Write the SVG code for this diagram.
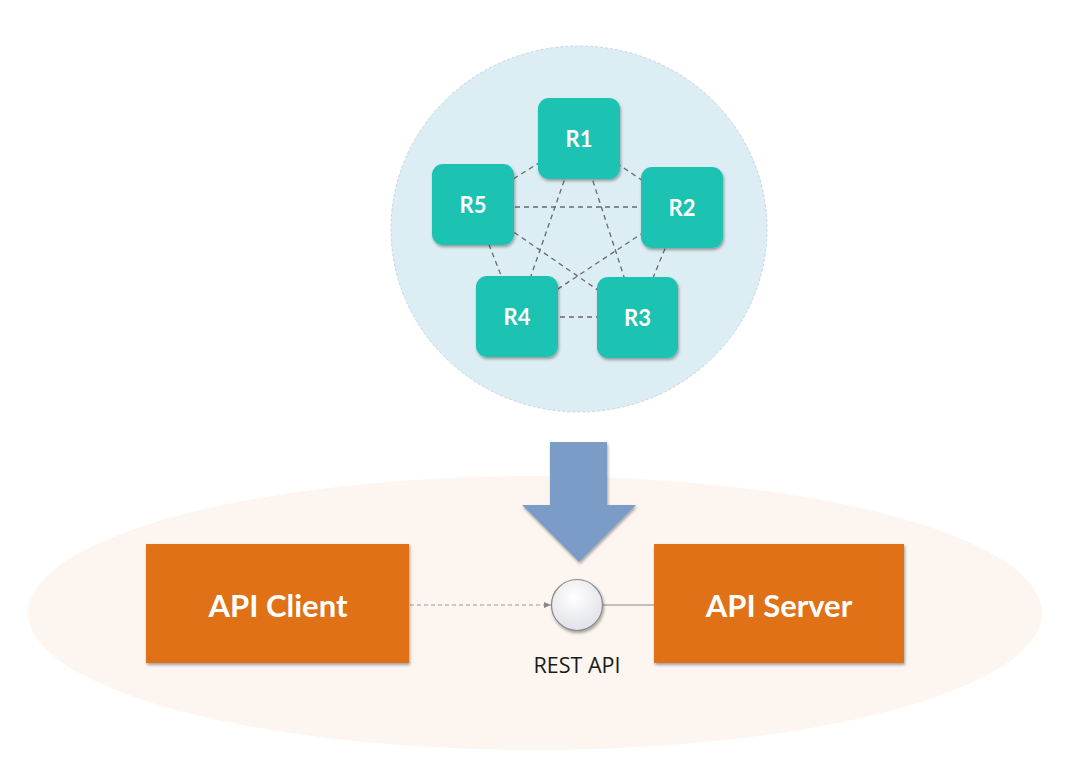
<svg xmlns="http://www.w3.org/2000/svg" width="1081" height="782" viewBox="0 0 1081 782">
<defs>
<style>
.node rect.r{fill:#1fc2b2;}
.lbl{font-family:Lato,"Noto Sans",sans-serif;font-weight:bold;fill:#ffffff;text-anchor:middle;}
.mesh line{stroke:#6a6a6a;stroke-width:1.3;stroke-dasharray:5,4;}
.api{fill:#e07116;}
</style>
<filter id="sh" x="-20%" y="-20%" width="140%" height="140%">
<feDropShadow dx="1" dy="2" stdDeviation="1.5" flood-color="#000" flood-opacity="0.35"/>
</filter>
<radialGradient id="gb" cx="0.45" cy="0.35" r="0.7">
<stop offset="0" stop-color="#ffffff"/>
<stop offset="1" stop-color="#dfe0e6"/>
</radialGradient>
<marker id="ah" markerWidth="8" markerHeight="8" refX="7" refY="4" orient="auto" markerUnits="userSpaceOnUse">
<path d="M0,1 L7,4 L0,7 Z" fill="#888"/>
</marker>
</defs>
<rect width="1081" height="782" fill="#ffffff"/>
<g id="cluster-bg">
<ellipse cx="579" cy="229" rx="188" ry="183" fill="#dcedf3" stroke="#c3d6df" stroke-width="1" stroke-dasharray="3,2"/>
</g>
<g id="platform-bg">
<ellipse cx="535" cy="613" rx="507" ry="137" fill="#fdf5ef"/>
</g>
<g id="connectors">
<g class="mesh">
<line x1="579" y1="138" x2="682" y2="207"/>
<line x1="579" y1="138" x2="637" y2="317"/>
<line x1="579" y1="138" x2="517" y2="316"/>
<line x1="579" y1="138" x2="473" y2="204"/>
<line x1="682" y1="207" x2="637" y2="317"/>
<line x1="682" y1="207" x2="517" y2="316"/>
<line x1="682" y1="207" x2="473" y2="207"/>
<line x1="637" y1="317" x2="517" y2="317"/>
<line x1="637" y1="317" x2="473" y2="204"/>
<line x1="517" y1="316" x2="473" y2="204"/>
</g>
<line x1="410" y1="605" x2="551" y2="605" stroke="#999" stroke-width="1.2" stroke-dasharray="4,3" marker-end="url(#ah)"/>
<line x1="603" y1="605" x2="654" y2="605" stroke="#888" stroke-width="1.2"/>
</g>
<g id="R1" class="node"><rect class="r" x="538" y="98" width="82" height="81" rx="11" filter="url(#sh)"/><text class="lbl" x="579" y="146.5" font-size="22">R1</text></g>
<g id="R2" class="node"><rect class="r" x="641" y="167" width="82" height="81" rx="11" filter="url(#sh)"/><text class="lbl" x="682" y="215.5" font-size="22">R2</text></g>
<g id="R3" class="node"><rect class="r" x="597" y="277" width="81" height="81" rx="11" filter="url(#sh)"/><text class="lbl" x="637.5" y="325.5" font-size="22">R3</text></g>
<g id="R4" class="node"><rect class="r" x="476" y="276" width="82" height="81" rx="11" filter="url(#sh)"/><text class="lbl" x="517" y="324.5" font-size="22">R4</text></g>
<g id="R5" class="node"><rect class="r" x="432" y="164" width="82" height="81" rx="11" filter="url(#sh)"/><text class="lbl" x="473" y="212.5" font-size="22">R5</text></g>
<g id="arrow">
<path d="M550,442 L607,442 L607,505 L636,505 L579,562 L522,505 L550,505 Z" fill="#7a9cc6" filter="url(#sh)"/>
</g>
<g id="api-client">
<rect class="api" x="146" y="544" width="263" height="119" filter="url(#sh)"/>
<text class="lbl" x="278" y="617" font-size="31">API Client</text>
</g>
<g id="api-server">
<rect class="api" x="654" y="544" width="250" height="119" filter="url(#sh)"/>
<text class="lbl" x="779" y="617" font-size="31">API Server</text>
</g>
<g id="rest-api">
<circle cx="577" cy="605" r="25.5" fill="url(#gb)" stroke="#8a8a8a" stroke-width="1.2" filter="url(#sh)"/>
<text x="577" y="673" font-family="'Open Sans','Noto Sans',sans-serif" font-size="21.5" fill="#1a1a1a" text-anchor="middle">REST API</text>
</g>
</svg>
